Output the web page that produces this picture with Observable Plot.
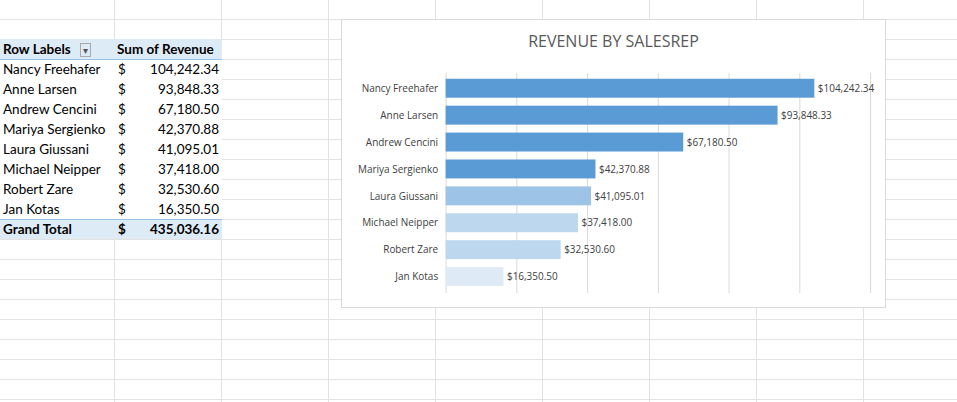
<!DOCTYPE html>
<html>
<head>
<meta charset="utf-8">
<script src="https://cdn.jsdelivr.net/npm/d3@7"></script>
<script src="https://cdn.jsdelivr.net/npm/@observablehq/plot@0.6"></script>
<style>
  body { margin: 0; width: 957px; height: 402px; overflow: hidden; position: relative;
    font-family: Lato, "Open Sans", sans-serif; background: #fff; }
  #rows { position: absolute; left: 0; top: 0; width: 957px; height: 402px;
    background: repeating-linear-gradient(to bottom, transparent 0 19px, #e2e2e2 19px 20px); }
  #cols { position: absolute; left: 114px; top: 0; width: 843px; height: 402px;
    background: repeating-linear-gradient(to right, #e2e2e2 0 1px, transparent 1px 107px); }
  #pivot { position: absolute; left: 0; top: 39px; border-collapse: collapse; font-size: 13.5px; color: #000; }
  #pivot td { height: 20px; padding: 0 3px; box-sizing: border-box; white-space: nowrap; background: #fff; }
  #pivot tr.head td, #pivot tr.total td { background: #ddebf7; font-weight: bold; }
  #pivot tr.head td { border-bottom: 1px solid #9bc2e6; }
  #pivot tr.total td { border-top: 1px solid #9bc2e6; }
  #pivot td.name { width: 115px; }
  #pivot td.cur { width: 20px; }
  #pivot td.num { width: 87px; text-align: right; }
  #chart { position: absolute; left: 341px; top: 19px; width: 545px; height: 289px;
    background: #fff; border: 1px solid #d9d9d9; box-sizing: border-box; }
  #title { position: absolute; left: 0; right: 0; top: 10px; text-align: center;
    font-family: "Open Sans", sans-serif; font-size: 16px; color: #595959; }
  #plot { position: absolute; left: 0; top: 0; }
</style>
</head>
<body>
<div id="rows"></div>
<div id="cols"></div>
<table id="pivot"></table>
<div id="chart"><div id="plot"></div><div id="title">REVENUE BY SALESREP</div></div>
<script>
const reps = ["Nancy Freehafer", "Anne Larsen", "Andrew Cencini", "Mariya Sergienko",
  "Laura Giussani", "Michael Neipper", "Robert Zare", "Jan Kotas"];
const revenue = [104242.34, 93848.33, 67180.50, 42370.88, 41095.01, 37418.00, 32530.60, 16350.50];
const grandTotal = 435036.16;
const barColors = ["#5b9bd5", "#5b9bd5", "#5b9bd5", "#5b9bd5", "#9dc3e6", "#bdd7ee", "#bdd7ee", "#deebf7"];
const gridTicks = [0, 20000, 40000, 60000, 80000, 100000, 120000];

const fmt = d3.format(",.2f");

// pivot table
const table = document.getElementById("pivot");
let html = `<tr class="head"><td class="name">Row Labels <span style="font-weight:normal;font-size:10px;border:1px solid #aaa;padding:0 2px;margin-left:6px;color:#555">▾</span></td><td colspan="2" style="padding-left:2px">Sum of Revenue</td></tr>`;
reps.forEach((r, i) => {
  html += `<tr><td class="name">${r}</td><td class="cur">$</td><td class="num">${fmt(revenue[i])}</td></tr>`;
});
html += `<tr class="total"><td class="name">Grand Total</td><td class="cur">$</td><td class="num">${fmt(grandTotal)}</td></tr>`;
table.innerHTML = html;

const data = reps.map((r, i) => ({ rep: r, value: revenue[i], color: barColors[i] }));

const chart = Plot.plot({
  width: 545,
  height: 289,
  marginLeft: 104,
  marginRight: 15,
  marginTop: 53,
  marginBottom: 15,
  style: { fontFamily: "'Open Sans', sans-serif", fontSize: "10px", color: "#404040", background: "transparent" },
  x: { domain: [0, 120000], axis: null },
  y: { domain: reps, paddingInner: 0.28, paddingOuter: 0.1, label: null, axis: null },
  marks: [
    Plot.ruleX(gridTicks, { stroke: "#d9d9d9", strokeWidth: 1 }),
    Plot.barX(data, { x: "value", y: "rep", fill: "color" }),
    Plot.text(data, { x: "value", y: "rep", text: d => "$" + fmt(d.value), textAnchor: "start", dx: 3, fill: "#404040" }),
    Plot.axisY({ tickSize: 0, tickPadding: 8, label: null, fill: "#404040" })
  ]
});
document.getElementById("plot").appendChild(chart);
</script>
</body>
</html>
